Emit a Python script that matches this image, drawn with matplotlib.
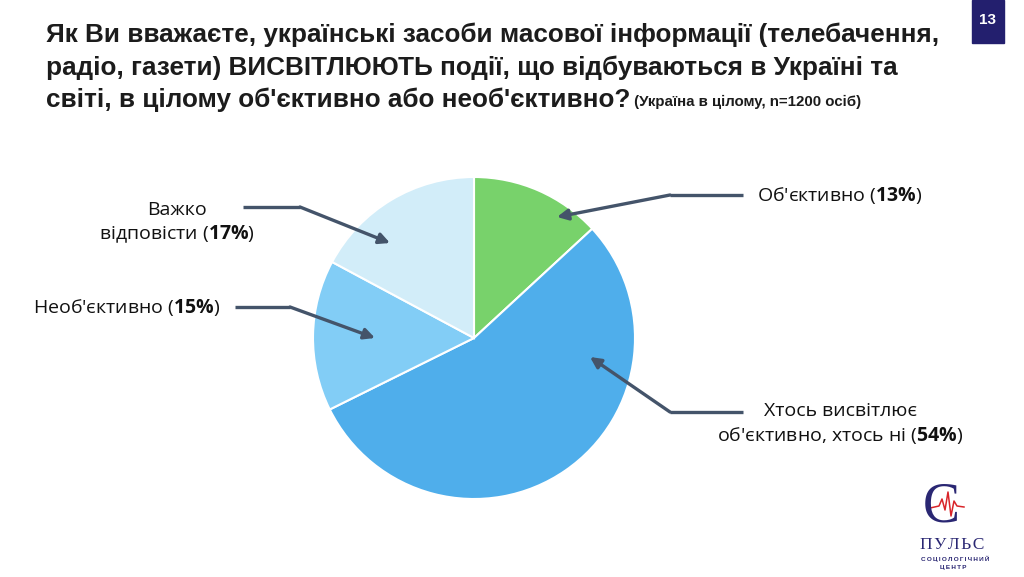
import matplotlib.pyplot as plt
import numpy as np

labels = ["Об'єктивно", "Хтось висвітлює\nоб'єктивно, хтось ні", "Необ'єктивно", "Важко\nвідповісти"]
values = [13, 54, 15, 17]
colors = ['#78D26B', '#4FAEEB', '#82CDF6', '#D2EDF9']

title_lines = ["Як Ви вважаєте, українські засоби масової інформації (телебачення,",
               "радіо, газети) ВИСВІТЛЮЮТЬ події, що відбуваються в Україні та",
               "світі, в цілому об'єктивно або необ'єктивно?"]
subtitle = "(Україна в цілому, n=1200 осіб)"
page_no = "13"

plt.rcParams['mathtext.fontset'] = 'custom'
plt.rcParams['mathtext.rm'] = 'Open Sans'
plt.rcParams['mathtext.bf'] = 'Open Sans:bold'

W, H = 1024, 577
fig = plt.figure(figsize=(W / 100, H / 100), dpi=100)
fig.patch.set_facecolor('white')

# pie: centre (474, 338), radius 161 px
cx, cy, r = 474, 338, 161
pie_ax = fig.add_axes([(cx - r) / W, (H - cy - r) / H, 2 * r / W, 2 * r / H])
pie_ax.pie(values, colors=colors, startangle=90, counterclock=False,
           wedgeprops=dict(edgecolor='white', linewidth=1.5))
pie_ax.set_xlim(-1, 1)
pie_ax.set_ylim(-1, 1)
pie_ax.set_aspect('auto')
pie_ax.axis('off')

# overlay in pixel coordinates for labels and arrows
ax = fig.add_axes([0, 0, 1, 1], zorder=2)
ax.set_xlim(0, W)
ax.set_ylim(H, 0)
ax.axis('off')
ax.patch.set_alpha(0)

title_color = '#1C1C1C'
t = None
for i, line in enumerate(title_lines):
    t = ax.text(46, 35 + i * 32.5, line, fontsize=18.8, fontweight='bold',
                family='Liberation Sans', color=title_color, va='center', ha='left')
ax.annotate(' ' + subtitle, xy=(1, 0), xycoords=t, xytext=(0, 2.5),
            textcoords='offset points', fontsize=10.8, fontweight='bold',
            family='Liberation Sans', color=title_color, va='bottom', ha='left')

# page number box
ax.add_patch(plt.Rectangle((972, 0), 32, 43, color='#231F6E'))
ax.text(988, 20, page_no, color='white', fontsize=11, fontweight='bold',
        family='Liberation Sans', ha='center', va='center')

# labels with arrows
arrow_color = '#44546A'
label_pos = [(757, 195, 'left'), (840, 424, 'center'), (33, 307, 'left'), (177, 223, 'center')]
arrows = [((743, 195), (670, 195), (557, 217)),
          ((743, 412), (670, 412), (590, 357)),
          ((235, 307), (290, 307), (375, 338)),
          ((243, 207), (300, 207), (390, 243))]

for lab, val, (lx, ly, ha), (p0, p1, p2) in zip(labels, values, label_pos, arrows):
    lines = lab.split('\n')
    lines[-1] = lines[-1] + ' ($\\mathbf{' + str(val) + '\\%}$)'
    ax.text(lx, ly, '\n'.join(lines), fontsize=14, family='Open Sans', color='#111111',
            ha=ha, va='center', multialignment='center', linespacing=1.3)
    ax.plot([p0[0], p1[0]], [p0[1], p1[1]], color=arrow_color, lw=2.4,
            solid_capstyle='butt')
    ax.annotate('', xy=p2, xytext=p1,
                arrowprops=dict(arrowstyle='-|>', color=arrow_color, lw=2.4,
                                mutation_scale=16, shrinkA=0, shrinkB=0))

# logo
navy = '#2A2773'
ax.text(941, 521, 'С', fontsize=40, family='Liberation Serif', color=navy,
        ha='center', va='baseline')
ax.plot([930, 939, 942, 945, 948, 951, 954, 957, 964],
        [508, 506, 499, 510, 492, 516, 501, 506, 507], color='#D9252A', lw=1.1)
ax.text(952, 549, '\u200a'.join('ПУЛЬС'), fontsize=12.5, family='Liberation Serif',
        color=navy, ha='center', va='baseline')
ax.text(955, 559, '\u2009'.join('СОЦІОЛОГІЧНИЙ'), fontsize=4.6, fontweight='bold',
        family='Liberation Sans', color=navy, ha='center', va='center')
ax.text(953, 568, '\u2009'.join('ЦЕНТР'), fontsize=4.6, fontweight='bold',
        family='Liberation Sans', color=navy, ha='center', va='center')

fig.savefig('out.png', dpi=100, facecolor='white')
